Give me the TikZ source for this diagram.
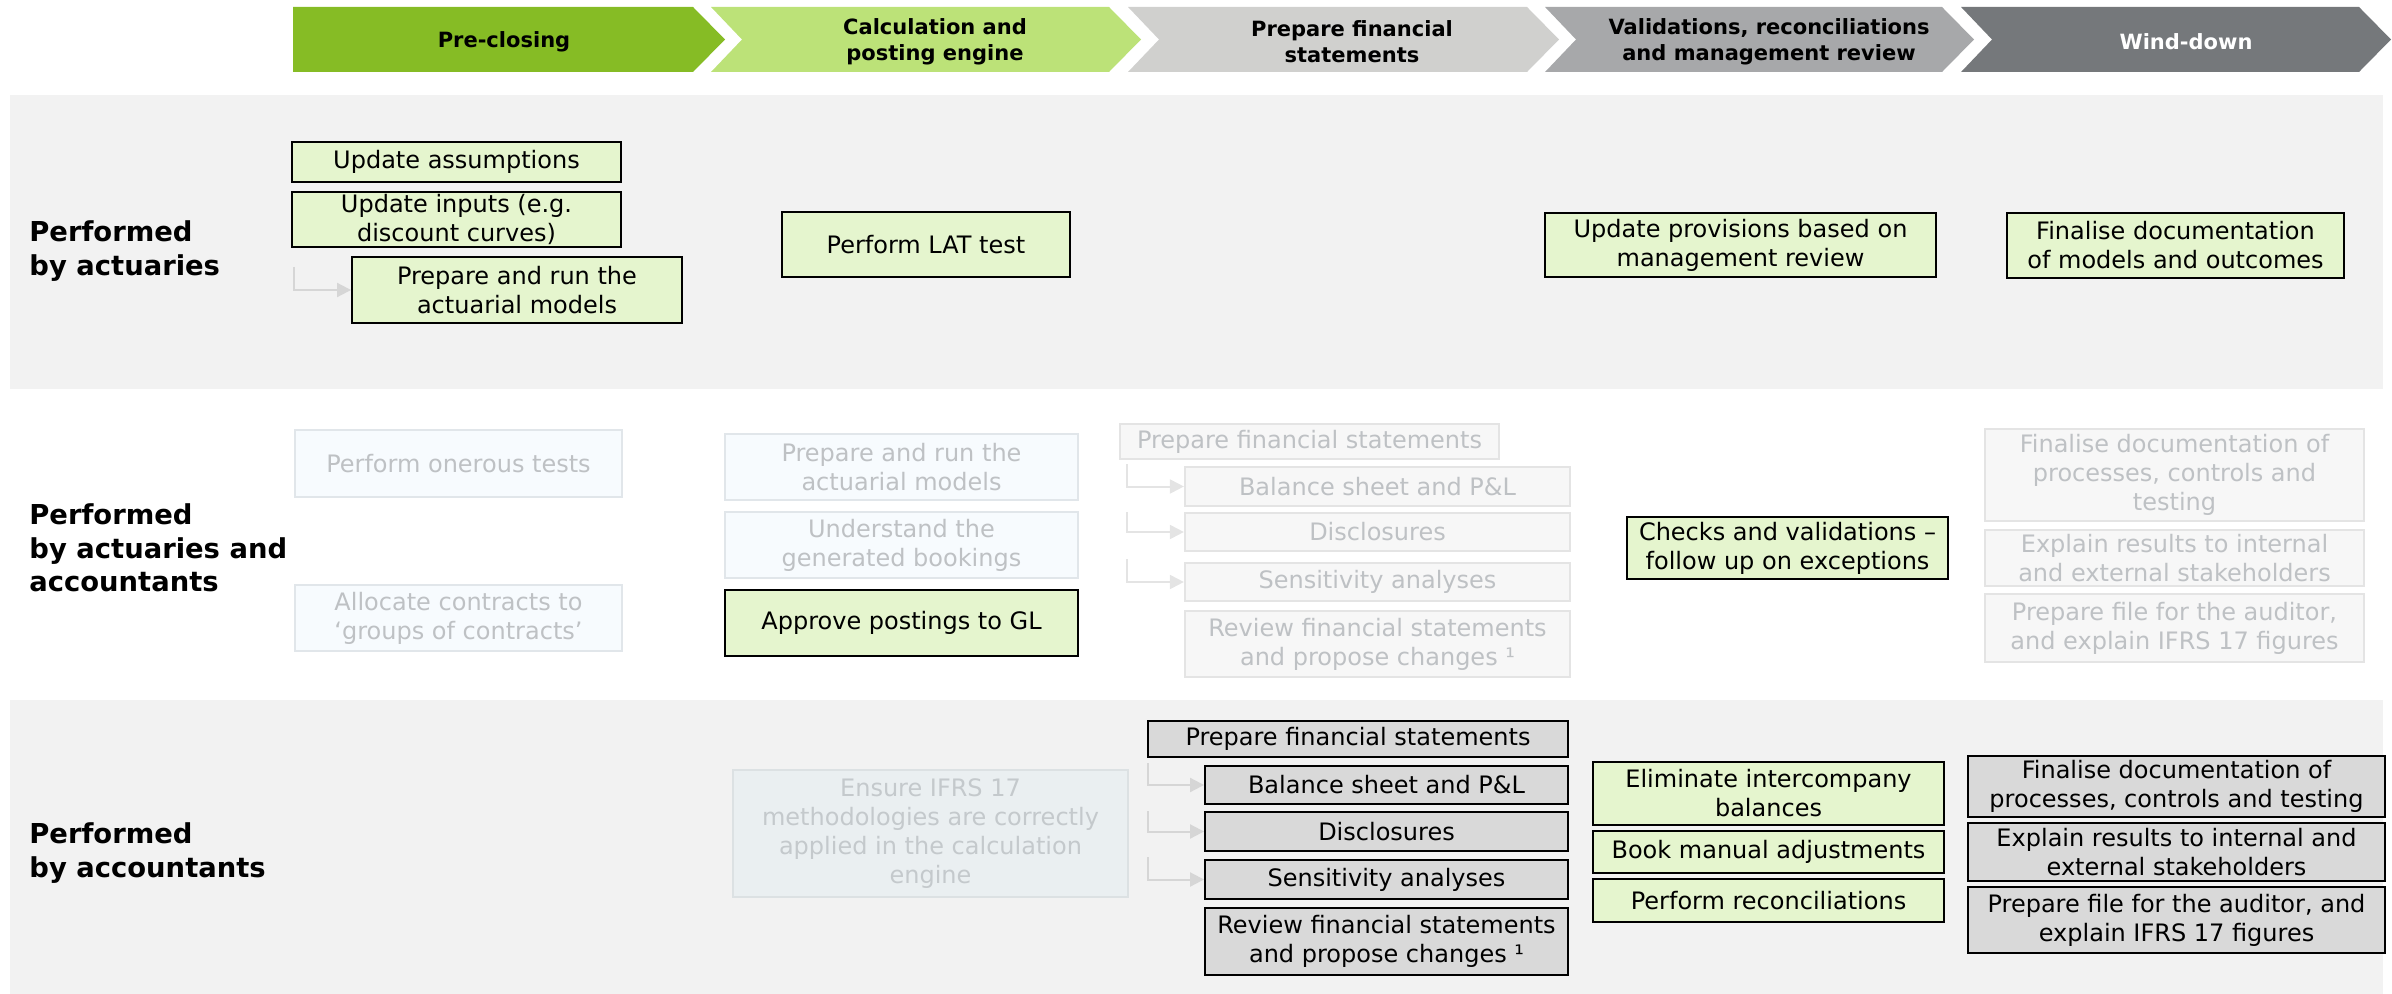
\documentclass[tikz,border=0pt]{standalone}
\usepackage{fontspec}
\setmainfont{DejaVu Sans}
\usetikzlibrary{arrows.meta,calc}

% phase colours
\definecolor{phaseA}{HTML}{86BC25}
\definecolor{phaseB}{HTML}{BCE278}
\definecolor{phaseC}{HTML}{D0D0CE}
\definecolor{phaseD}{HTML}{A7A8AA}
\definecolor{phaseE}{HTML}{75787B}
% box and band colours
\definecolor{band}{HTML}{F2F2F2}
\definecolor{boxgreen}{HTML}{E5F5CE}
\definecolor{boxgray}{HTML}{D9D9D9}
\definecolor{fadeblue}{HTML}{F7FBFE}
\definecolor{fadeblueline}{HTML}{E1E6EA}
\definecolor{fadegray}{HTML}{F7F7F7}
\definecolor{fadegrayline}{HTML}{E4E4E4}
\definecolor{fadetext}{HTML}{BEC1C4}
\definecolor{ensurefill}{HTML}{EAEFF1}
\definecolor{ensureline}{HTML}{DCE1E3}
\definecolor{ensuretext}{HTML}{C4C9CC}
\definecolor{elbowgray}{HTML}{D6D6D6}

\tikzset{
  basebox/.style={align=center, inner sep=0pt, line width=0.95pt,
    font=\fontsize{12pt}{14.5pt}\selectfont},
  gbox/.style={basebox, draw=black, fill=boxgreen, text=black},
  dbox/.style={basebox, draw=black, fill=boxgray, text=black},
  fbox/.style={basebox, draw=fadeblueline, fill=fadeblue, text=fadetext, line width=1.1pt},
  fgbox/.style={basebox, draw=fadegrayline, fill=fadegray, text=fadetext, line width=1.1pt},
  ebox/.style={basebox, draw=ensureline, fill=ensurefill, text=ensuretext, line width=1.1pt},
  elbow/.style={draw=elbowgray, line width=1pt, -{Triangle[length=7pt,width=7pt]}},
  rowlabel/.style={anchor=west, align=left, inner sep=0pt,
    font=\bfseries\fontsize{13.7pt}{16.75pt}\selectfont},
  phasetext/.style={align=center, inner sep=0pt,
    font=\bfseries\fontsize{10.5pt}{13pt}\selectfont},
}

% box given by its corners (x1,y1) and (x2,y2)
\newcommand{\mkbox}[7]{%
  \node[#2, minimum width={(#5-#3)*0.5pt}, minimum height={(#6-#4)*0.5pt}]
    (#1) at ({(#3+#5)/2},{(#4+#6)/2}) {#7};}

\begin{document}
\begin{tikzpicture}[x=0.5pt, y=-0.5pt]
\useasboundingbox (0,0) rectangle (2392,994);

% row bands
\fill[band] (10,95) rectangle (2383,389);
\fill[band] (10,700) rectangle (2383,994);

% phase chevrons
\fill[phaseA] (293,7) -- (693,7) -- (725,39.5) -- (693,72) -- (293,72) -- cycle;
\fill[phaseB] (711,7) -- (1109,7) -- (1141,39.5) -- (1109,72) -- (711,72) -- (742,39.5) -- cycle;
\fill[phaseC] (1128,7) -- (1527,7) -- (1559,39.5) -- (1527,72) -- (1128,72) -- (1159,39.5) -- cycle;
\fill[phaseD] (1545,7) -- (1942,7) -- (1974,39.5) -- (1942,72) -- (1545,72) -- (1576,39.5) -- cycle;
\fill[phaseE] (1961,7) -- (2359,7) -- (2391,39.5) -- (2359,72) -- (1961,72) -- (1992,39.5) -- cycle;

\node[phasetext] (phA) at (504,42) {Pre-closing};
\node[phasetext] (phB) at (935,42) {Calculation and\\posting engine};
\node[phasetext] (phC) at (1352,42) {Prepare financial\\statements};
\node[phasetext] (phD) at (1769,42) {Validations, reconciliations\\and management review};
\node[phasetext, text=white] (phE) at (2186,42) {Wind-down};

% row labels
\node[rowlabel] (rowA) at (29,251) {Performed\\by actuaries};
\node[rowlabel] (rowB) at (29,548) {Performed\\by actuaries and\\accountants};
\node[rowlabel] (rowC) at (29,853) {Performed\\by accountants};

% performed by actuaries
\mkbox{assump}{gbox}{292}{142}{621}{182}{Update assumptions}
\mkbox{inputs}{gbox}{292}{192}{621}{247}{Update inputs (e.g.\\discount curves)}
\mkbox{runmod}{gbox}{352}{257}{682}{323}{Prepare and run the\\actuarial models}
\mkbox{lat}{gbox}{782}{212}{1070}{277}{Perform LAT test}
\mkbox{prov}{gbox}{1545}{213}{1936}{277}{Update provisions based on\\management review}
\mkbox{findoc}{gbox}{2007}{213}{2344}{278}{Finalise documentation\\of models and outcomes}
\coordinate (aStart) at (294,267);
\draw[elbow] (aStart) |- (runmod.west);

% performed by actuaries and accountants
\mkbox{oner}{fbox}{295}{430}{622}{497}{Perform onerous tests}
\mkbox{alloc}{fbox}{295}{585}{622}{651}{Allocate contracts to\\‘groups of contracts’}
\mkbox{runmodB}{fbox}{725}{434}{1078}{500}{Prepare and run the\\actuarial models}
\mkbox{underst}{fbox}{725}{512}{1078}{578}{Understand the\\generated bookings}
\mkbox{approve}{gbox}{725}{590}{1078}{656}{Approve postings to GL}
\mkbox{pfsB}{fgbox}{1120}{424}{1499}{459}{Prepare financial statements}
\mkbox{bsB}{fgbox}{1185}{467}{1570}{506}{Balance sheet and P\&L}
\mkbox{discB}{fgbox}{1185}{513}{1570}{551}{Disclosures}
\mkbox{sensB}{fgbox}{1185}{563}{1570}{601}{Sensitivity analyses}
\mkbox{revB}{fgbox}{1185}{611}{1570}{677}{Review financial statements\\and propose changes ¹}
\mkbox{checks}{gbox}{1627}{517}{1948}{579}{Checks and validations –\\follow up on exceptions}
\mkbox{finB}{fgbox}{1985}{429}{2364}{521}{Finalise documentation of\\processes, controls and\\testing}
\mkbox{explB}{fgbox}{1985}{530}{2364}{586}{Explain results to internal\\and external stakeholders}
\mkbox{fileB}{fgbox}{1985}{594}{2364}{662}{Prepare file for the auditor,\\and explain IFRS 17 figures}
\coordinate (bStartA) at (1127,464);
\coordinate (bStartB) at (1127,512);
\coordinate (bStartC) at (1127,559);
\draw[elbow, draw=fadegrayline] (bStartA) |- (bsB.west);
\draw[elbow, draw=fadegrayline] (bStartB) |- (discB.west);
\draw[elbow, draw=fadegrayline] (bStartC) |- (sensB.west);

% performed by accountants
\mkbox{ensure}{ebox}{733}{770}{1128}{897}{Ensure IFRS 17\\methodologies are correctly\\applied in the calculation\\engine}
\mkbox{pfsC}{dbox}{1148}{721}{1568}{757}{Prepare financial statements}
\mkbox{bsC}{dbox}{1205}{766}{1568}{804}{Balance sheet and P\&L}
\mkbox{discC}{dbox}{1205}{812}{1568}{851}{Disclosures}
\mkbox{sensC}{dbox}{1205}{860}{1568}{899}{Sensitivity analyses}
\mkbox{revC}{dbox}{1205}{908}{1568}{975}{Review financial statements\\and propose changes ¹}
\mkbox{elim}{gbox}{1593}{762}{1944}{825}{Eliminate intercompany\\balances}
\mkbox{book}{gbox}{1593}{831}{1944}{873}{Book manual adjustments}
\mkbox{recon}{gbox}{1593}{879}{1944}{922}{Perform reconciliations}
\mkbox{finC}{dbox}{1968}{756}{2385}{817}{Finalise documentation of\\processes, controls and testing}
\mkbox{explC}{dbox}{1968}{823}{2385}{881}{Explain results to internal and\\external stakeholders}
\mkbox{fileC}{dbox}{1968}{887}{2385}{953}{Prepare file for the auditor, and\\explain IFRS 17 figures}
\coordinate (cStartA) at (1148,763);
\coordinate (cStartB) at (1148,811);
\coordinate (cStartC) at (1148,857);
\draw[elbow] (cStartA) |- (bsC.west);
\draw[elbow] (cStartB) |- (discC.west);
\draw[elbow] (cStartC) |- (sensC.west);
\end{tikzpicture}
\end{document}
